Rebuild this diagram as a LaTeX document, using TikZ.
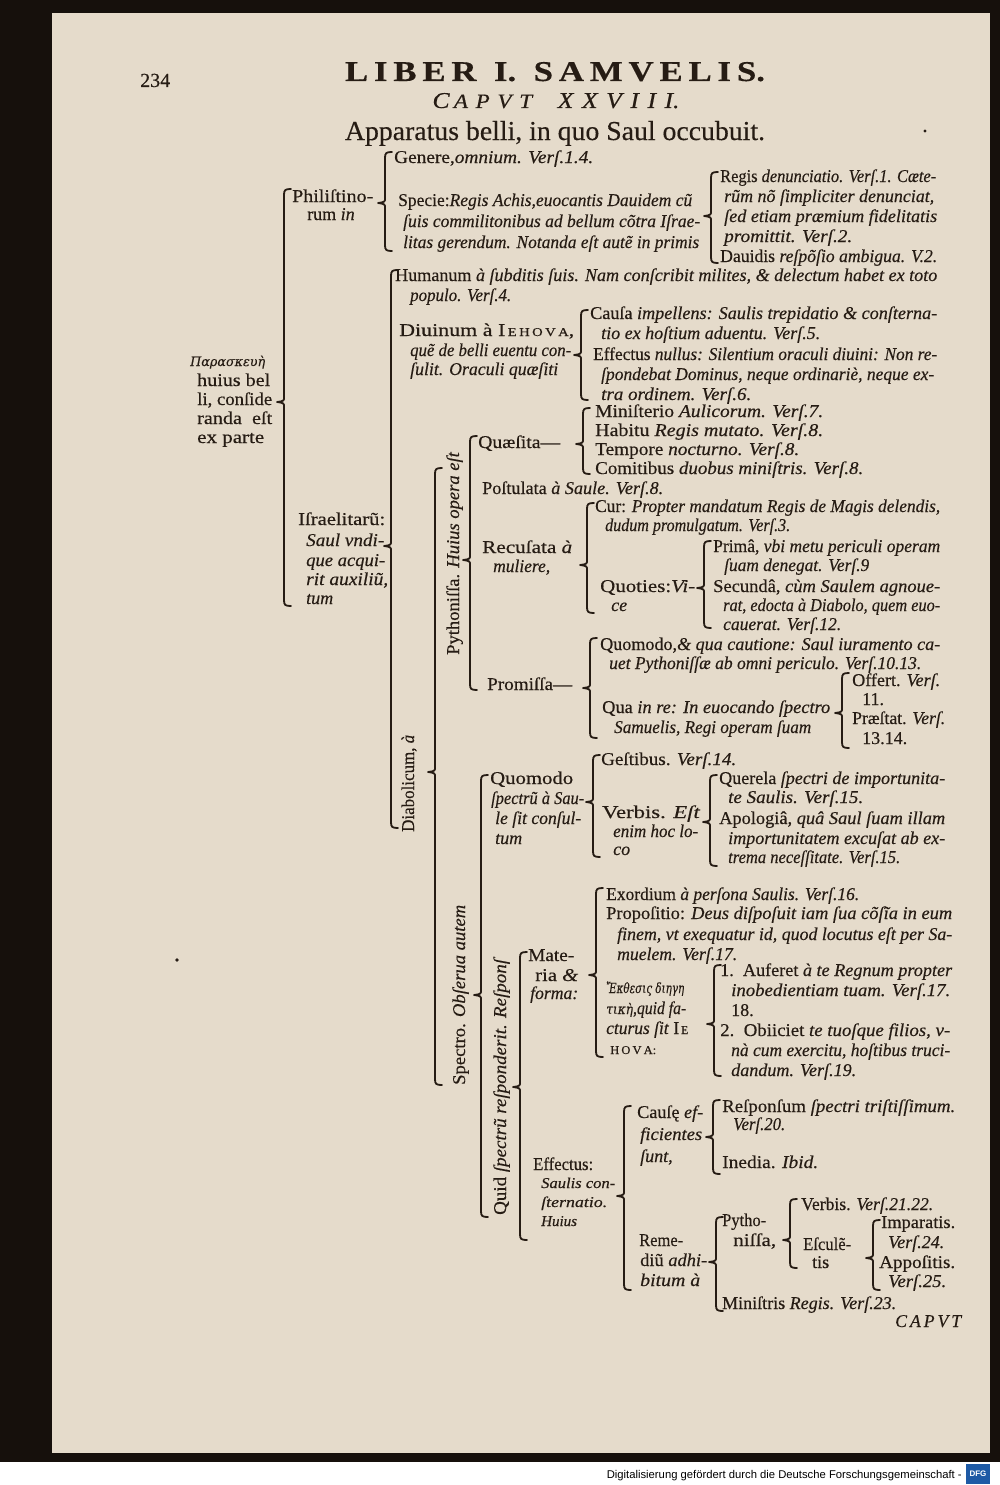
\documentclass[tikz,border=0pt]{standalone}
\usepackage{fontspec}
\usepackage{graphicx}
\setmainfont{Liberation Serif}[FakeBold=0.35]
\newfontfamily\grk{DejaVu Serif}[FakeBold=0.3]
\newfontfamily\sansf{Liberation Sans}
\definecolor{ink}{RGB}{38,28,20}
\definecolor{paper}{RGB}{229,219,203}
\definecolor{darkbg}{RGB}{22,16,12}
\definecolor{dfgblue}{RGB}{30,90,165}
\tikzset{
  txt/.style={anchor=base west, inner sep=0pt, text=ink, font=\fontsize{18}{20}\selectfont},
  rtxt/.style={txt, rotate=90},
  brace/.style={draw=ink, line width=1.8pt, line cap=round, line join=round},
}
\newcommand\tx[4]{\node[txt] (#1) at (#2,#3) {#4};}
\newcommand\txw[5]{\node[txt] (#1) at (#2,#3) {\resizebox{#4pt}{\height}{#5}};}
% old-style brace: x, top, tip, bottom
\newcommand\obr[4]{\draw[brace] (#1+7,#2) .. controls (#1+1,#2) and (#1,#2+1) .. (#1,#2+6) -- (#1,#3-5) .. controls (#1,#3-1) .. (#1-7,#3) .. controls (#1,#3+1) .. (#1,#3+5) -- (#1,#4-6) .. controls (#1,#4-1) and (#1+1,#4) .. (#1+7,#4);}
\begin{document}
\begin{tikzpicture}[x=1pt,y=-1pt]
\useasboundingbox (0,0) rectangle (1000,1485);
% background
\fill[darkbg] (0,0) rectangle (1000,1462);
\fill[white] (0,1462) rectangle (1000,1485);
\fill[paper] (52,13) rectangle (990,1453);
% header
\node[txt] (pg) at (140,87) {\fontsize{20}{20}\selectfont 234};
\node[anchor=base, inner sep=0pt, text=ink] (t1) at (555,81) {\resizebox{420pt}{19pt}{\bfseries L\,I\,B\,E\,R\ \ I.\ \ S\,A\,M\,V\,E\,L\,I\,S.}};
\node[anchor=base, inner sep=0pt, text=ink] (t2) at (556,108) {\resizebox{247pt}{15pt}{\itshape C\,{\fontsize{9}{9}\selectfont A\,\,P\,\,V\,\,T}\quad X\,\,X\,\,V\,\,I\,\,I\,\,I.}};
\node[anchor=base, inner sep=0pt, text=ink] (t3) at (555,140) {\resizebox{420pt}{19pt}{Apparatus belli, in quo Saul occubuit.}};
\fill[ink] (925,131) circle (1.6);
\fill[ink] (177,960) circle (1.8);
% left label
\txw{pa1}{190}{366}{75}{\fontsize{13}{13}\selectfont\grk\itshape Παρασκευὴ}
\txw{pa2}{197}{386}{73}{huius bel}
\txw{pa3}{197}{405}{75}{li, conſide}
\txw{pa4}{197}{424}{75}{randa \ eſt}
\txw{pa5}{197}{443}{67}{ex parte}
% Philistines
\txw{ph1}{292}{202}{81}{Philiſtino-}
\tx{ph2}{307}{220}{rum \textit{in}}
\txw{ge}{394}{163}{199}{Genere,\textit{omnium. Verſ.1.4.}}
\txw{sp1}{398}{206}{294}{Specie:\textit{Regis Achis,euocantis Dauidem cũ}}
\txw{sp2}{403}{227}{297}{\textit{ſuis commilitonibus ad bellum cõtra Iſrae-}}
\txw{sp3}{403}{248}{296}{\textit{litas gerendum. Notanda eſt autẽ in primis}}
\txw{rd1}{720}{182}{216}{Regis \textit{denunciatio. Verſ.1. Cæte-}}
\txw{rd2}{724}{202}{210}{\textit{rũm nõ ſimpliciter denunciat,}}
\txw{rd3}{724}{222}{213}{\textit{ſed etiam præmium fidelitatis}}
\txw{rd4}{724}{242}{128}{\textit{promittit. Verſ.2.}}
\txw{rd5}{720}{262}{217}{Dauidis \textit{reſpõſio ambigua. V.2.}}
% Israelites
\txw{is1}{298}{525}{87}{Iſraelitarũ:}
\txw{is2}{306}{546}{78}{\textit{Saul vndi-}}
\txw{is3}{306}{566}{79}{\textit{que acqui-}}
\txw{is4}{306}{585}{82}{\textit{rit auxiliũ,}}
\tx{is5}{306}{604}{\textit{tum}}
\txw{hu1}{395}{281}{542}{Humanum \textit{à ſubditis ſuis. Nam conſcribit milites, \& delectum habet ex toto}}
\txw{hu2}{410}{301}{101}{\textit{populo. Verſ.4.}}
\txw{di1}{399}{336}{175}{Diuinum à I{\fontsize{12}{12}\selectfont\,E\,H\,O\,V\,A},}
\txw{di2}{410}{356}{161}{\textit{quẽ de belli euentu con-}}
\txw{di3}{410}{375}{148}{\textit{ſulit. Oraculi quæſiti}}
\txw{ca1}{590}{319}{347}{Cauſa \textit{impellens: Saulis trepidatio \& conſterna-}}
\txw{ca2}{601}{339}{219}{\textit{tio ex hoſtium aduentu. Verſ.5.}}
\txw{ef1}{593}{360}{344}{Effectus \textit{nullus: Silentium oraculi diuini: Non re-}}
\txw{ef2}{601}{380}{333}{\textit{ſpondebat Dominus, neque ordinariè, neque ex-}}
\txw{ef3}{601}{400}{150}{\textit{tra ordinem. Verſ.6.}}
% rotated labels
\node[rtxt] (rdi) at (414,832) {\resizebox{97pt}{\height}{Diabolicum, \textit{à}}};
\node[rtxt] (rpy) at (459,655) {\resizebox{203pt}{\height}{Pythoniſſa. \textit{Huius opera eſt}}};
\node[rtxt] (rsp) at (465,1085) {\resizebox{180pt}{\height}{Spectro. \textit{Obſerua autem}}};
\node[rtxt] (rqu) at (506,1215) {\resizebox{258pt}{\height}{Quid \textit{ſpectrũ reſponderit. Reſponſ}}};
% Pythonissa
\txw{qu0}{478}{448}{82}{Quæſita—}
\txw{mi1}{595}{417}{228}{Miniſterio \textit{Aulicorum. Verſ.7.}}
\txw{mi2}{595}{436}{228}{Habitu \textit{Regis mutato. Verſ.8.}}
\txw{mi3}{595}{455}{204}{Tempore \textit{nocturno. Verſ.8.}}
\txw{mi4}{595}{474}{268}{Comitibus \textit{duobus miniſtris. Verſ.8.}}
\txw{po}{482}{494}{181}{Poſtulata \textit{à Saule. Verſ.8.}}
\txw{re1}{482}{553}{90}{Recuſata \textit{à}}
\txw{re2}{493}{572}{57}{\textit{muliere,}}
\txw{cu1}{595}{512}{345}{Cur: \textit{Propter mandatum Regis de Magis delendis,}}
\txw{cu2}{605}{531}{185}{\textit{dudum promulgatum. Verſ.3.}}
\txw{qt1}{600}{592}{95}{Quoties:\textit{Vi-}}
\tx{qt2}{611}{611}{\textit{ce}}
\txw{pr1}{713}{552}{227}{Primâ, \textit{vbi metu periculi operam}}
\txw{pr2}{724}{571}{145}{\textit{ſuam denegat. Verſ.9}}
\txw{se1}{713}{592}{227}{Secundâ, \textit{cùm Saulem agnoue-}}
\txw{se2}{723}{611}{217}{\textit{rat, edocta à Diabolo, quem euo-}}
\txw{se3}{723}{630}{118}{\textit{cauerat. Verſ.12.}}
\txw{pm0}{487}{690}{85}{Promiſſa—}
\txw{qm1}{600}{650}{340}{Quomodo,\textit{\& qua cautione: Saul iuramento ca-}}
\txw{qm2}{609}{669}{312}{\textit{uet Pythoniſſæ ab omni periculo. Verſ.10.13.}}
\txw{qr1}{602}{713}{228}{Qua \textit{in re: In euocando ſpectro}}
\txw{qr2}{614}{733}{197}{\textit{Samuelis, Regi operam ſuam}}
\txw{of1}{852}{686}{88}{Offert. \textit{Verſ.}}
\tx{of2}{862}{705}{11.}
\txw{of3}{852}{724}{93}{Præſtat. \textit{Verſ.}}
\tx{of4}{862}{744}{13.14.}
% Quomodo spectrum
\txw{qo1}{490}{784}{83}{Quomodo}
\txw{qo2}{491}{804}{93}{\textit{ſpectrũ à Sau-}}
\txw{qo3}{495}{824}{86}{\textit{le ſit conſul-}}
\tx{qo4}{495}{844}{\textit{tum}}
\txw{gs}{601}{765}{135}{Geſtibus. \textit{Verſ.14.}}
\txw{vb1}{602}{818}{98}{Verbis. \textit{Eſt}}
\txw{vb2}{613}{837}{85}{\textit{enim hoc lo-}}
\tx{vb3}{613}{855}{\textit{co}}
\txw{qe1}{719}{784}{226}{Querela \textit{ſpectri de importunita-}}
\txw{qe2}{728}{803}{135}{\textit{te Saulis. Verſ.15.}}
\txw{ap1}{719}{824}{226}{Apologiâ, \textit{quâ Saul ſuam illam}}
\txw{ap2}{728}{844}{217}{\textit{importunitatem excuſat ab ex-}}
\txw{ap3}{728}{863}{172}{\textit{trema neceſſitate. Verſ.15.}}
% Materia
\txw{ma1}{528}{961}{46}{Mate-}
\txw{ma2}{535}{981}{43}{ria \textit{\&}}
\txw{ma3}{530}{999}{48}{\textit{forma:}}
\txw{ex}{606}{900}{253}{Exordium \textit{à perſona Saulis. Verſ.16.}}
\txw{ps1}{606}{919}{346}{Propoſitio: \textit{Deus diſpoſuit iam ſua cõſĩa in eum}}
\txw{ps2}{617}{940}{335}{\textit{finem, vt exequatur id, quod locutus eſt per Sa-}}
\txw{ps3}{617}{960}{120}{\textit{muelem. Verſ.17.}}
\txw{ek1}{606}{993}{78}{\fontsize{14}{14}\selectfont\grk\itshape Ἔκθεσις διηγη}
\txw{ek2}{606}{1014}{80}{{\fontsize{14}{14}\selectfont\grk\itshape τικὴ},\textit{quid fa-}}
\txw{ek3}{606}{1034}{82}{\textit{cturus ſit} I{\fontsize{12}{12}\selectfont\,E}}
\txw{ek4}{610}{1054}{46}{\fontsize{12}{12}\selectfont H\,O\,V\,A:}
\txw{au1}{720}{976}{232}{1.\ \ Auferet \textit{à te Regnum propter}}
\txw{au2}{731}{996}{219}{\textit{inobedientiam tuam. Verſ.17.}}
\tx{au3}{731}{1016}{18.}
\txw{ob1}{720}{1036}{230}{2.\ \ Obiiciet \textit{te tuoſque filios, v-}}
\txw{ob2}{731}{1056}{219}{\textit{nà cum exercitu, hoſtibus truci-}}
\txw{ob3}{731}{1076}{125}{\textit{dandum. Verſ.19.}}
% Effectus
\txw{eff1}{533}{1170}{60}{Effectus:}
\txw{eff2}{541}{1188}{74}{\fontsize{15}{15}\selectfont\textit{Saulis con-}}
\txw{eff3}{541}{1207}{66}{\fontsize{15}{15}\selectfont\textit{ſternatio.}}
\node[txt] (eff4) at (541,1226) {\fontsize{15}{15}\selectfont\textit{Huius}};
\txw{cs1}{637}{1118}{66}{Cauſę \textit{ef-}}
\txw{cs2}{640}{1140}{62}{\textit{ficientes}}
\tx{cs3}{640}{1162}{\textit{ſunt,}}
\txw{rs1}{722}{1112}{233}{Reſponſum \textit{ſpectri triſtiſſimum.}}
\txw{rs2}{733}{1130}{52}{\textit{Verſ.20.}}
\txw{in}{722}{1168}{96}{Inedia. \textit{Ibid.}}
\txw{rm1}{639}{1246}{44}{Reme-}
\txw{rm2}{640}{1266}{67}{diũ \textit{adhi-}}
\txw{rm3}{640}{1286}{60}{\textit{bitum à}}
\txw{py1}{722}{1226}{44}{Pytho-}
\txw{py2}{733}{1246}{43}{niſſa,}
\txw{vr}{801}{1210}{132}{Verbis. \textit{Verſ.21.22.}}
\txw{es1}{803}{1250}{48}{Eſculẽ-}
\tx{es2}{812}{1268}{tis}
\txw{im1}{881}{1228}{74}{Imparatis.}
\txw{im2}{888}{1248}{56}{\textit{Verſ.24.}}
\txw{im3}{879}{1268}{76}{Appoſitis.}
\txw{im4}{888}{1287}{58}{\textit{Verſ.25.}}
\txw{mn}{722}{1309}{174}{Miniſtris \textit{Regis. Verſ.23.}}
\txw{cw}{895}{1327}{67}{\textit{C\,A\,P\,V\,T}}
% braces
\obr{284}{189}{402}{606}
\obr{385}{152}{203}{251}
\obr{711}{172}{216}{263}
\obr{391}{270}{546}{828}
\obr{581}{310}{355}{400}
\obr{435}{468}{772}{1085}
\obr{470}{436}{560}{690}
\obr{583}{408}{444}{474}
\obr{587}{503}{565}{613}
\obr{704}{541}{588}{628}
\obr{590}{638}{688}{738}
\obr{842}{673}{713}{748}
\obr{481}{775}{995}{1217}
\obr{593}{755}{802}{857}
\obr{710}{775}{822}{866}
\obr{520}{952}{1087}{1240}
\obr{596}{888}{975}{1057}
\obr{714}{965}{1024}{1076}
\obr{624}{1106}{1196}{1290}
\obr{713}{1100}{1137}{1174}
\obr{716}{1217}{1262}{1311}
\obr{790}{1199}{1240}{1268}
\obr{873}{1220}{1258}{1290}
% footer
\node[anchor=base east, inner sep=0pt] (dfgt) at (962,1478) {\resizebox{355pt}{!}{\sansf Digitalisierung gefördert durch die Deutsche Forschungsgemeinschaft -}};
\fill[dfgblue] (966,1464) rectangle (990,1484);
\node[inner sep=0pt, text=white, font=\sansf\bfseries\fontsize{8}{8}\selectfont] (dfg) at (978,1474) {DFG};
\end{tikzpicture}
\end{document}
